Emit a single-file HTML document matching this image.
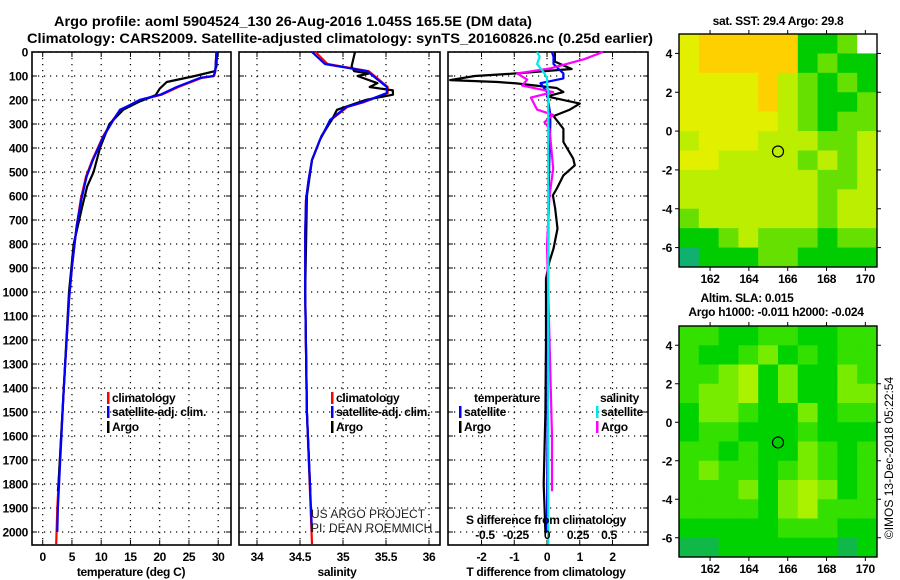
<!DOCTYPE html>
<html><head><meta charset="utf-8"><style>
html,body{margin:0;padding:0;background:#fff}
svg{display:block;font-family:"Liberation Sans",Arial,sans-serif}
.b{font-weight:bold;font-size:12px;letter-spacing:-0.3px}
</style></head><body>
<svg id="chart" width="900" height="580" viewBox="0 0 900 580">
<text x="293" y="26" text-anchor="middle" font-size="14" font-weight="bold" textLength="478" lengthAdjust="spacingAndGlyphs">Argo profile: aoml 5904524_130 26-Aug-2016 1.045S 165.5E (DM data)</text>
<text x="340" y="43" text-anchor="middle" font-size="14" font-weight="bold" textLength="626" lengthAdjust="spacingAndGlyphs">Climatology: CARS2009. Satellite-adjusted climatology: synTS_20160826.nc (0.25d earlier)</text>
<g id="g"></g>
</svg>
<script>
// ---- profile data (depth in m) ----
const tDepth = [0,80,100,108,146,178,199,227,241,283,352,449,519,616,727,894,1033,1400,1900,2050];
const tSat   = [29.7,29.5,29.2,26.9,22.9,20.1,16.6,14.4,13.2,12.1,10.4,8.6,7.5,6.6,5.8,5.0,4.5,3.6,2.6,2.5];
const tClim  = [29.7,29.5,29.3,27.2,23.2,20.3,16.8,14.5,13.3,12.0,10.3,8.5,7.4,6.5,5.8,5.0,4.5,3.6,2.5,2.3];
const aDepth = [0,60,80,100,125,153,180,205,240,300,400,500,560,650,800,1000,1400,1800,1830];
const tArgo  = [29.8,29.7,29.4,26.0,21.2,20.0,19.3,16.7,13.8,11.4,9.8,8.7,7.6,6.7,5.3,4.5,3.6,2.7,2.6];
const sDepth = [0,50,80,146,171,208,229,283,367,450,533,617,756,1000,1500,2050];
const sSat   = [34.64,34.79,35.28,35.51,35.51,35.24,35.04,34.85,34.73,34.64,34.60,34.57,34.56,34.56,34.58,34.64];
const sClim  = [34.68,34.82,35.30,35.52,35.52,35.25,35.05,34.86,34.73,34.64,34.60,34.57,34.56,34.56,34.58,34.64];
const saDepth= [0,60,80,90,100,130,146,160,178,199,241,283,350,450,600,1000,1500,1830];
const sArgo  = [35.14,35.10,35.13,35.30,35.17,35.40,35.31,35.58,35.58,35.27,34.93,34.87,34.75,34.64,34.58,34.56,34.58,34.62];
// ---- differences ----
const dtDepth = [0,40,71,89,100,117,125,131,150,167,185,215,240,267,320,375,444,472,514,569,597,653,736,819,875,944,1200,1500,1800,2000];
const dtArgo  = [0.24,0.24,0.75,-0.93,-2.2,-2.96,-1.5,-0.93,0.3,0.5,0.0,1.0,0.7,0.2,0.5,0.5,0.8,0.85,0.5,0.3,0.18,0.25,0.32,0.2,0.07,-0.03,-0.03,-0.05,-0.1,-0.05];
const dsDepth = [0,20,50,89,110,130,167,215,260,300,400,600,1000,1500,2000];
const dtSat   = [0.15,0.2,0.2,0.5,0.5,-0.2,0.0,0.05,0.1,0.1,0.08,0.05,0.03,0.02,0.0];
const smDepth = [0,30,68,89,115,140,167,190,240,262,292,320,486,600,806,1200,1600,1830];
const dsArgo  = [0.45,0.3,0.03,-0.24,-0.16,-0.2,0.05,-0.13,-0.08,0.05,-0.02,0.02,0.05,0.02,0.0,0.02,0.04,0.04];
const cyDepth = [0,20,50,89,110,130,167,215,260,300,400,600,1000,1500,2000,2050];
const dsSat   = [-0.08,-0.06,-0.08,-0.02,0.0,0.0,0.01,0.01,0.01,0.01,0.01,0.01,0.01,0.01,0.01,0.01];
// ---- ticks ----
const depthTicks=[0,100,200,300,400,500,600,700,800,900,1000,1100,1200,1300,1400,1500,1600,1700,1800,1900,2000];
const tTicks=[0,5,10,15,20,25,30];
const sTicks=[34,34.5,35,35.5,36];
const sTickLabels=["34","34.5","35","35.5","36"];
const dTTicks=[-2,-1,0,1,2];
const dSTicks=[-0.5,-0.25,0,0.25,0.5];
const dSLabels=["-0.5","-0.25","0","0.25","0.5"];
const lonTicks=[162,164,166,168,170];
const latTicks=[4,2,0,-2,-4,-6];
// ---- maps (category grids, rows north->south) ----
const sstGrid=[
[4,5,5,5,5,5,1,1,2,9],[4,5,5,5,5,5,1,2,1,1],[4,4,4,4,5,3,2,1,2,1],[4,4,4,4,5,3,2,1,1,2],
[4,4,4,4,4,3,2,1,2,2],[3,4,4,4,3,3,3,2,2,3],[4,4,3,3,3,3,2,3,2,3],[3,3,3,3,3,3,3,2,2,3],
[3,3,3,3,3,3,3,2,3,3],[2,3,3,3,3,3,3,2,3,3],[1,1,2,3,2,2,2,1,2,2],[0,1,1,1,2,2,1,1,1,1]];
const slaGrid=[
[2,2,1,1,2,2,1,1,2,2],[2,1,1,2,3,1,2,1,2,2],[2,2,3,4,1,3,1,1,3,2],[2,3,3,4,1,3,1,1,3,3],
[1,3,3,2,1,1,3,1,2,2],[1,2,2,1,1,1,2,1,1,1],[2,2,1,2,1,1,3,2,1,2],[2,3,2,2,1,2,3,2,1,2],
[2,2,2,3,1,3,4,3,1,2],[2,2,2,2,1,3,4,2,2,2],[1,1,1,1,1,2,2,2,1,1],[0,0,1,1,1,1,1,1,0,1]];
const sstColors=["#10b070","#00cc00","#66e000","#bbee00","#e2f000","#ffd000"];
const slaColors=["#10b848","#00d200","#33e000","#77ec00","#aaf200"];
const profLon=165.5, profLat=-1.05;

const NS="http://www.w3.org/2000/svg";
const G=document.getElementById('g');
function el(t,a,p){const e=document.createElementNS(NS,t);for(const k in a)e.setAttribute(k,a[k]);(p||G).appendChild(e);return e;}
const yD=d=>52+d*0.24;
const xT=v=>42.7+v*5.85, xS=v=>257+(v-34)*86, xDT=v=>547+v*32.75, xDS=v=>547+v*124;
const P1={l:32,r:231},P2={l:239,r:440},P3={l:448,r:648},TOP=52,BOT=545;

function frame(P,name){
  const g=el('g',{});
  
  
  depthTicks.forEach(d=>{const y=yD(d);
    const ln=el('line',{x1:P.l,x2:P.r,y1:y,y2:y,stroke:'#000','stroke-width':1.2,'stroke-dasharray':'1.2 4.8'},g);
    
    el('line',{x1:P.l,x2:P.l+5,y1:y,y2:y,stroke:'#000'},g);el('line',{x1:P.r-5,x2:P.r,y1:y,y2:y,stroke:'#000'},g);});
  el('rect',{x:P.l,y:TOP,width:P.r-P.l,height:BOT-TOP,fill:'none',stroke:'#000','stroke-width':1.6},g);
  return g;
}
function vgrid(g,P,vals,fx){vals.forEach(v=>{const x=fx(v);
  const ln=el('line',{x1:x,x2:x,y1:TOP,y2:BOT,stroke:'#000','stroke-width':1.2,'stroke-dasharray':'1.2 4.8'},g);
  
  el('line',{x1:x,x2:x,y1:BOT-5,y2:BOT,stroke:'#000'},g);el('line',{x1:x,x2:x,y1:TOP,y2:TOP+5,stroke:'#000'},g);});}
function line(xs,ds,fx,col,name,w){
  const pts=xs.map((v,i)=>fx(v).toFixed(1)+','+yD(ds[i]).toFixed(1)).join(' ');
  const p=el('polyline',{points:pts,fill:'none',stroke:col,'stroke-width':w||2.2,'stroke-linejoin':'round'});
  
  
}
function txt(x,y,s,opt){const t=el('text',Object.assign({x:x,y:y},opt||{}));t.textContent=s;return t;}

// panel 1
const g1=frame(P1,'temperature-panel');vgrid(g1,P1,tTicks,xT);
depthTicks.forEach(d=>{const t=txt(28,yD(d)+4.5,String(d),{'text-anchor':'end',class:'b'});});
tTicks.forEach(v=>{const t=txt(xT(v),561,String(v),{'text-anchor':'middle',class:'b'});});
txt(131,576,'temperature (deg C)',{'text-anchor':'middle',class:'b'});
line(tClim,tDepth,xT,'#ff0000','temperature-climatology-line');
line(tArgo,aDepth,xT,'#000','temperature-argo-line');
line(tSat,tDepth.map(d=>Math.min(d,2000)),xT,'#0000ff','temperature-satellite-line');
// panel 2
const g2=frame(P2,'salinity-panel');vgrid(g2,P2,sTicks,xS);
sTicks.forEach((v,i)=>{const t=txt(xS(v),561,sTickLabels[i],{'text-anchor':'middle',class:'b'});});
txt(337,576,'salinity',{'text-anchor':'middle',class:'b'});
line(sClim,sDepth,xS,'#ff0000','salinity-climatology-line');
line(sArgo,saDepth,xS,'#000','salinity-argo-line');
line(sSat,sDepth.map(d=>Math.min(d,2000)),xS,'#0000ff','salinity-satellite-line');
txt(311,518,'US ARGO PROJECT',{'font-size':12,fill:'#222'});
txt(311,532,'PI: DEAN ROEMMICH',{'font-size':12,fill:'#222'});
// panel 3
const g3=frame(P3,'difference-panel');vgrid(g3,P3,dTTicks,xDT);
dTTicks.forEach(v=>{const t=txt(xDT(v),561,String(v),{'text-anchor':'middle',class:'b'});});
txt(546,576,'T difference from climatology',{'text-anchor':'middle',class:'b'});
line(dtArgo,dtDepth,xDT,'#000','t-diff-argo-line');
line(dtSat,dsDepth,xDT,'#0000ff','t-diff-satellite-line');
line(dsArgo,smDepth,xDS,'#ff00ff','s-diff-argo-line');
line(dsSat,cyDepth,xDS,'#00e8e8','s-diff-satellite-line');
txt(546,524,'S difference from climatology',{'text-anchor':'middle',class:'b'});
dSTicks.forEach((v,i)=>{const t=txt(xDS(v),539,dSLabels[i],{'text-anchor':'middle',class:'b'});});

// legends
function leg(x,y,col,label,name){const r=el('rect',{x:x,y:y-10,width:2.5,height:12,fill:col});
  const t=txt(x+5,y,label,{class:'b'});return t;}
leg(107,402,'#ff0000','climatology','legend-climatology');
leg(107,416,'#0000ff','satellite-adj. clim.','legend-satellite-adj');
leg(107,431,'#000','Argo','legend-argo');
leg(331,402,'#ff0000','climatology','legend2-climatology');
leg(331,416,'#0000ff','satellite-adj. clim.','legend2-satellite-adj');
leg(331,431,'#000','Argo','legend2-argo');
txt(474,402,'temperature',{class:'b'});
leg(459,416,'#0000ff','satellite','legend3-t-satellite');
leg(459,431,'#000','Argo','legend3-t-argo');
const sh=txt(600,402,'salinity',{class:'b'});
const ss=leg(596,416,'#00e8e8','satellite','legend3-s-satellite');ss.setAttribute('textLength','42');ss.setAttribute('lengthAdjust','spacingAndGlyphs');
leg(596,431,'#ff00ff','Argo','legend3-s-argo');

// maps
function map(grid,colors,top,bot,name,titleLines){
  const L=679,R=877,lon0=160.4,lon1=170.6,lat0=5,lat1=-7;
  const xL=v=>L+(v-lon0)/(lon1-lon0)*(R-L), yL=v=>top+(v-lat0)/(lat1-lat0)*(bot-top);
  const g=el('g',{});
  const nr=grid.length,nc=grid[0].length,cw=(R-L)/nc,ch=(bot-top)/nr;
  grid.forEach((row,i)=>row.forEach((v,j)=>{
    const c=el('rect',{x:(L+j*cw).toFixed(2),y:(top+i*ch).toFixed(2),width:(cw+0.5).toFixed(2),height:(ch+0.5).toFixed(2),fill:v>=colors.length?'#fff':colors[v]},g);
    }));
  el('rect',{x:L,y:top,width:R-L,height:bot-top,fill:'none',stroke:'#000','stroke-width':1.4},g);
  lonTicks.forEach(v=>{const x=xL(v);el('line',{x1:x,x2:x,y1:top-4,y2:top,stroke:'#000'},g);el('line',{x1:x,x2:x,y1:bot,y2:bot+4,stroke:'#000'},g);
    const t=txt(x,bot+16,String(v),{'text-anchor':'middle',class:'b'});});
  latTicks.forEach(v=>{const y=yL(v);el('line',{x1:L-4,x2:L,y1:y,y2:y,stroke:'#000'},g);el('line',{x1:R,x2:R+4,y1:y,y2:y,stroke:'#000'},g);
    const t=txt(L-7,y+4.5,String(v),{'text-anchor':'end',class:'b'});});
  const c=el('circle',{cx:xL(profLon),cy:yL(profLat),r:5.5,fill:'none',stroke:'#000','stroke-width':1.2},g);
  
  titleLines.forEach(tl=>{const t=txt(tl[0],tl[1],tl[2],{'text-anchor':'middle',class:'b'});});
}
map(sstGrid,sstColors,34,267,'sst-map',[[778,25,'sat. SST: 29.4 Argo: 29.8','sst-map-title']]);
map(slaGrid,slaColors,326,557,'sla-map',[[747,302,'Altim. SLA: 0.015','sla-map-title'],[776,316,'Argo h1000: -0.011 h2000: -0.024','sla-map-subtitle']]);
const cr=txt(0,0,'©IMOS 13-Dec-2018 05:22:54',{'font-size':12,'text-anchor':'middle',transform:'translate(893,458) rotate(-90)'});

</script>
</body></html>
